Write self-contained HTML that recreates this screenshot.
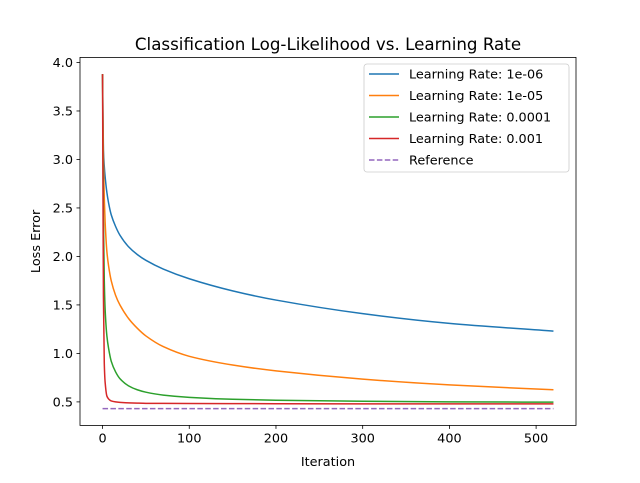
<!DOCTYPE html>
<html><head><meta charset="utf-8"><style>
body{margin:0;background:#fff}
svg text{font-family:"DejaVu Sans","Liberation Sans",sans-serif;fill:#000}
</style></head><body>
<svg id="chart" width="640" height="478" xmlns="http://www.w3.org/2000/svg">
<rect width="640" height="478" fill="#fff"/>
<g id="plot"></g>
</svg>
<script>
const iters=[0,1,2,3,5,7,10,15,20,30,40,50,70,100,150,200,300,400,520];
const lr1e6=[3.88,3.1,2.93,2.82,2.66,2.55,2.43,2.31,2.22,2.10,2.02,1.96,1.87,1.77,1.645,1.55,1.41,1.31,1.23];
const lr1e5=[3.88,3.0,2.6,2.35,2.05,1.9,1.75,1.6,1.5,1.36,1.26,1.18,1.07,0.97,0.88,0.82,0.735,0.675,0.625];
const lr1e4=[3.88,2.4,1.75,1.45,1.18,1.05,0.92,0.81,0.74,0.665,0.625,0.6,0.57,0.547,0.527,0.517,0.506,0.5,0.497];
const lr1e3=[3.88,1.6,0.9,0.7,0.56,0.53,0.51,0.5,0.495,0.49,0.487,0.485,0.484,0.483,0.482,0.481,0.48,0.48,0.48];
const refVal=[0.43,0.43];
const refIters=[0,520];
const labels=["Learning Rate: 1e-06","Learning Rate: 1e-05","Learning Rate: 0.0001","Learning Rate: 0.001","Reference"];
const xTicks=[0,100,200,300,400,500];
const yTicks=[0.5,1.0,1.5,2.0,2.5,3.0,3.5,4.0];

const L=80,R=576,T=57.4,B=425.4;
const xMin=-26,xMax=546,yMin=0.2575,yMax=4.0525;
const xs=v=>L+(v-xMin)/(xMax-xMin)*(R-L);
const ys=v=>B-(v-yMin)/(yMax-yMin)*(B-T);
const NS="http://www.w3.org/2000/svg";
const g=document.getElementById('plot');
function mk(tag,attrs,parent){const e=document.createElementNS(NS,tag);for(const k in attrs)e.setAttribute(k,attrs[k]);(parent||g).appendChild(e);return e;}

function monoPath(px,py){
  const n=px.length,d=[],m=[];
  for(let i=0;i<n-1;i++)d.push((py[i+1]-py[i])/(px[i+1]-px[i]));
  m[0]=d[0];m[n-1]=d[n-2];
  for(let i=1;i<n-1;i++){m[i]=(d[i-1]*d[i]<=0)?0:2/(1/d[i-1]+1/d[i]);}
  let s='M'+px[0]+','+py[0];
  for(let i=0;i<n-1;i++){
    const h=px[i+1]-px[i];
    s+=' C'+(px[i]+h/3)+','+(py[i]+m[i]*h/3)+' '+(px[i+1]-h/3)+','+(py[i+1]-m[i+1]*h/3)+' '+px[i+1]+','+py[i+1];
  }
  return s;
}

const series=[[lr1e6,'#1f77b4','series-lr-1e-06'],[lr1e5,'#ff7f0e','series-lr-1e-05'],[lr1e4,'#2ca02c','series-lr-0.0001'],[lr1e3,'#d62728','series-lr-0.001']];
series.forEach(s=>{
  const p=mk('path',{d:monoPath(iters.map(xs),s[0].map(ys)),fill:'none',stroke:s[1],'stroke-width':1.5,'stroke-linejoin':'round'});
  
  
});
const rl=mk('polyline',{points:refIters.map((x,i)=>xs(x)+','+ys(refVal[i])).join(' '),fill:'none',stroke:'#9467bd','stroke-width':1.5,'stroke-dasharray':'5.5,2.4'});



const frame=mk('rect',{x:L,y:T,width:R-L,height:B-T,fill:'none',stroke:'#000','stroke-width':0.8});



xTicks.forEach(t=>{
  const x=xs(t);
  mk('line',{x1:x,x2:x,y1:B,y2:B+3.5,stroke:'#000','stroke-width':0.8});
  const tx=mk('text',{x:x,y:B+17,'text-anchor':'middle','font-size':'12.8'});
  tx.textContent=t;
  
  
});
yTicks.forEach(t=>{
  const y=ys(t);
  mk('line',{x1:L-3.5,x2:L,y1:y,y2:y,stroke:'#000','stroke-width':0.8});
  const tx=mk('text',{x:L-7,y:y+4.5,'text-anchor':'end','font-size':'12.8'});
  tx.textContent=t.toFixed(1);
  
  
});
const xt=mk('text',{x:(L+R)/2,y:466,'text-anchor':'middle','font-size':'12.8'});
xt.textContent='Iteration';


const yt=mk('text',{x:0,y:0,'text-anchor':'middle','font-size':'12.8',transform:'translate(40,'+((T+B)/2)+') rotate(-90)'});
yt.textContent='Loss Error';


const ti=mk('text',{x:(L+R)/2,y:50,'text-anchor':'middle','font-size':'16.7'});
ti.textContent='Classification Log-Likelihood vs. Learning Rate';



const lg=mk('g',{});


mk('rect',{x:364,y:64,width:205,height:108,rx:3,fill:'#fff','fill-opacity':0.8,stroke:'#ccc','stroke-width':0.8},lg);
const cols=['#1f77b4','#ff7f0e','#2ca02c','#d62728','#9467bd'];
labels.forEach((lab,i)=>{
  const y=74+i*21.5;
  const ln=mk('line',{x1:369,x2:399,y1:y,y2:y,stroke:cols[i],'stroke-width':1.5},lg);
  if(i===4)ln.setAttribute('stroke-dasharray','5.5,2.4');
  const tx=mk('text',{x:409,y:y+4.5,'font-size':'12.8'},lg);
  tx.textContent=lab;
  
  
});
</script>
</body></html>
